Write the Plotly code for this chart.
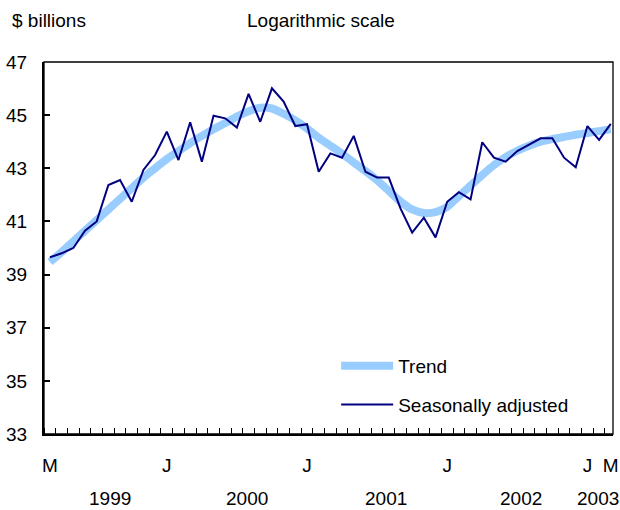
import plotly.graph_objects as go

# Months March 1999 .. March 2003 (index 0..48)
month_index = list(range(49))

seasonally_adjusted = [
    39.65, 39.80, 40.00, 40.65, 41.00, 42.37, 42.56, 41.74, 42.94, 43.50,
    44.38, 43.31, 44.73, 43.25, 44.98, 44.88, 44.53, 45.80, 44.75, 46.01,
    45.51, 44.59, 44.66, 42.87, 43.56, 43.40, 44.22, 42.87, 42.65, 42.65,
    41.49, 40.58, 41.14, 40.40, 41.74, 42.10, 41.83, 43.98, 43.40, 43.25,
    43.65, 43.90, 44.13, 44.13, 43.40, 43.04, 44.59, 44.07, 44.67,
]

trend = [
    39.47, 39.85, 40.25, 40.65, 41.05, 41.45, 41.85, 42.25, 42.65, 43.00,
    43.35, 43.65, 43.95, 44.22, 44.47, 44.70, 44.95, 45.15, 45.28, 45.25,
    45.05, 44.80, 44.50, 44.15, 43.85, 43.55, 43.22, 42.90, 42.55, 42.15,
    41.75, 41.45, 41.32, 41.35, 41.55, 41.95, 42.35, 42.75, 43.12, 43.42,
    43.66, 43.85, 44.00, 44.10, 44.18, 44.26, 44.33, 44.40, 44.47,
]

month_tick_positions = [0, 10, 22, 34, 46, 48]
month_tick_labels = ["M", "J", "J", "J", "J", "M"]
year_labels = ["1999", "2000", "2001", "2002", "2003"]
year_label_positions = [5.15, 16.9, 28.8, 40.3, 46.9]

y_ticks = [33, 35, 37, 39, 41, 43, 45, 47]

FONT = "Liberation Sans, Arial, sans-serif"

W, H = 620, 510
plot_l, plot_t = 44, 62
plot_r = W - 612.7
plot_b = H - 434
pw = W - plot_l - plot_r
ph = H - plot_t - plot_b

def px_to_paper_x(px):
    return (px - plot_l) / pw

def px_to_paper_y(py):
    return (H - plot_b - py) / ph

fig = go.Figure()
fig.add_trace(go.Scatter(
    x=month_index, y=trend, mode="lines", name="Trend",
    line=dict(color="#99CCFF", width=8, shape="spline", smoothing=0.6),
    legendgroup="a",
))
fig.add_trace(go.Scatter(
    x=month_index, y=seasonally_adjusted, mode="lines", name="Seasonally adjusted",
    line=dict(color="#000080", width=2),
    legendgroup="b",
))

annotations = [
    dict(text="$ billions", x=px_to_paper_x(49), y=px_to_paper_y(20),
         xref="paper", yref="paper", xanchor="center", yanchor="middle", showarrow=False),
    dict(text="Logarithmic scale", x=px_to_paper_x(321), y=px_to_paper_y(20),
         xref="paper", yref="paper", xanchor="center", yanchor="middle", showarrow=False),
]
for lab, pos in zip(year_labels, year_label_positions):
    annotations.append(dict(text=lab, x=pos, y=px_to_paper_y(498), xref="x", yref="paper",
                            xanchor="center", yanchor="middle", showarrow=False))

fig.update_layout(
    template="none",
    width=W, height=H,
    margin=dict(l=plot_l, r=plot_r, t=plot_t, b=plot_b, pad=0, autoexpand=False),
    paper_bgcolor="white", plot_bgcolor="white",
    font=dict(family=FONT, size=19, color="black"),
    showlegend=True,
    legend=dict(x=px_to_paper_x(336), y=px_to_paper_y(347), xanchor="left", yanchor="top",
                bgcolor="rgba(0,0,0,0)", tracegroupgap=11, itemwidth=52,
                font=dict(family=FONT, size=19, color="black")),
    annotations=annotations,
    xaxis=dict(
        range=[-0.51, 48.19], showgrid=False, zeroline=False, automargin=False,
        showline=True, linecolor="black", linewidth=2,
        tickmode="array", tickvals=month_tick_positions, ticktext=month_tick_labels,
        ticks="", ticklabelstandoff=13,
        minor=dict(tick0=0.5, dtick=1, ticks="inside", ticklen=6, tickcolor="black",
                   tickwidth=1, showgrid=False),
    ),
    yaxis=dict(
        range=[33, 47], showgrid=False, zeroline=False, automargin=False,
        showline=True, linecolor="black", linewidth=2,
        tickmode="array", tickvals=y_ticks,
        ticks="inside", ticklen=6, tickcolor="black", tickwidth=1.5,
        ticklabelstandoff=11,
    ),
    shapes=[dict(type="rect", xref="paper", yref="paper", x0=0, x1=1, y0=0, y1=1,
                 line=dict(color="black", width=1.3))],
)

fig.write_html(
    "out.html",
    config={"displayModeBar": False},
    post_script="document.body.style.margin='0';document.body.style.overflow='hidden';",
)
